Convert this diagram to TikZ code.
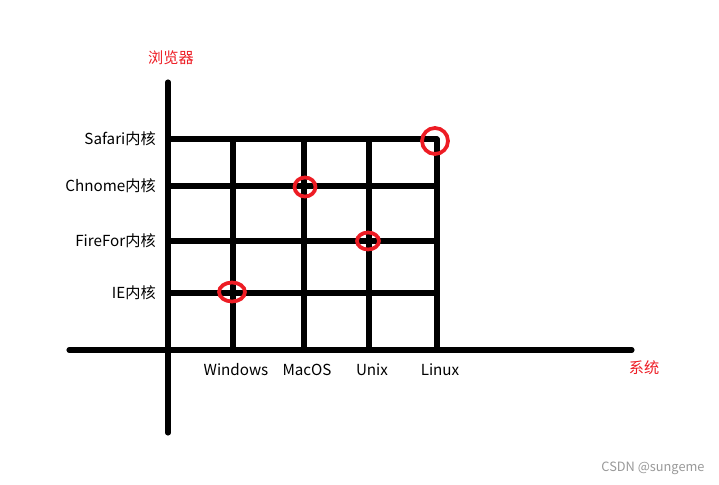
\documentclass[tikz,border=0pt]{standalone}
\usepackage{fontspec}
\setmainfont{Noto Sans CJK SC}
\definecolor{markrot}{RGB}{237,28,36}
\begin{document}
\begin{tikzpicture}[x=0.75pt,y=-0.75pt,font=\fontsize{11.4}{13}\selectfont]
\useasboundingbox (0,0) rectangle (719,485);
\tikzset{achse/.style={line width=3.8pt,line cap=round},
         ring/.style={draw=markrot,line width=2.8pt}}
% Achsen
\coordinate (yo) at (168,82);
\coordinate (yu) at (168,433);
\coordinate (xl) at (69,350);
\coordinate (xr) at (632,350);
\draw[achse] (yo) -- (yu);
\draw[achse] (xl) -- (xr);
% Kerne (horizontal)
\foreach \y/\name/\txt in {139/safari/Safari内核,186/chrome/Chnome内核,241/firefox/FireFor内核,293/ie/IE内核}{
  \node[anchor=east,inner sep=0pt] (\name) at (156,\y) {\txt};
  \coordinate (\name-a) at (170,\y);
  \coordinate (\name-b) at (437,\y);
  \draw[achse] (\name-a) -- (\name-b);
}
% Systeme (vertikal)
\foreach \x/\name/\txt in {233/windows/Windows,304/macos/MacOS,369/unix/Unix,437/linux/Linux}{
  \node[inner sep=0pt] (\name) at (\x+3,370) {\txt};
  \coordinate (\name-a) at (\x,139);
  \coordinate (\name-b) at (\x,350);
  \draw[achse] (\name-a) -- (\name-b);
}
\node[text=markrot,inner sep=0pt] (browser) at (171,58) {浏览器};
\node[text=markrot,inner sep=0pt] (system) at (644,368) {系统};
% Markierungen
\draw[ring] (435,141) ellipse (13 and 13);
\draw[ring] (305,187) ellipse (10.5 and 9.5);
\draw[ring] (368,241) ellipse (11 and 8.5);
\draw[ring] (232,292) ellipse (13 and 9.5);
\node[text=black!40,font=\fontsize{9.6}{11}\selectfont,inner sep=0pt] (csdn) at (653,468) {CSDN @sungeme};
\end{tikzpicture}
\end{document}
